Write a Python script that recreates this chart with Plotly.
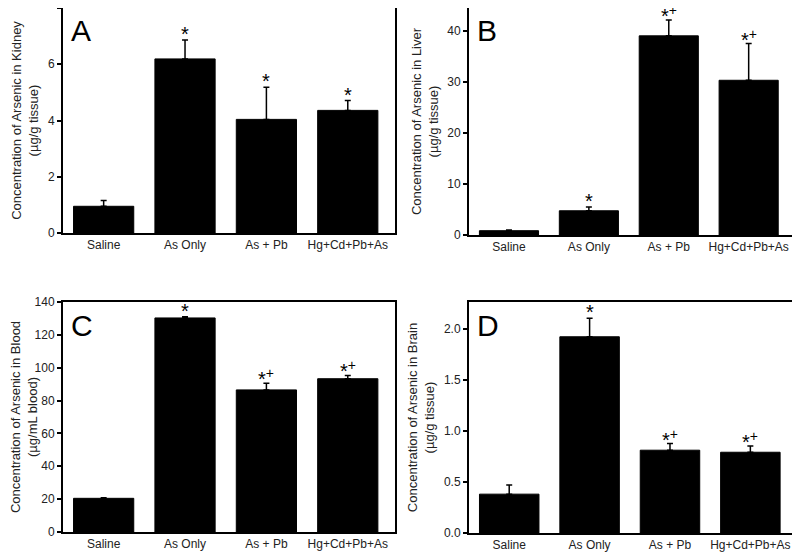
import plotly.graph_objects as go

categories = ["Saline", "As Only", "As + Pb", "Hg+Cd+Pb+As"]

kidney_mean = [0.95, 6.19, 4.04, 4.36]
kidney_err = [0.21, 0.67, 1.14, 0.35]
kidney_sig = ["", "*", "*", "*"]

liver_mean = [0.85, 4.75, 39.0, 30.3]
liver_err = [0.15, 0.75, 3.1, 7.2]
liver_sig = ["", "*", "*+", "*+"]

blood_mean = [20.5, 130.3, 86.5, 93.3]
blood_err = [0.4, 0.8, 4.0, 2.0]
blood_sig = ["", "*", "*+", "*+"]

brain_mean = [0.38, 1.92, 0.81, 0.79]
brain_err = [0.09, 0.18, 0.065, 0.06]
brain_sig = ["", "*", "*+", "*+"]

# The page body has an 8px margin, so the figure is 792x546 and placed at (8, 8).
panels = [
    dict(letter="A", mean=kidney_mean, err=kidney_err, sig=kidney_sig,
         title="Concentration of Arsenic in Kidney<br>(µg/g tissue)",
         yrange=[0, 8], dtick=2, fmt="", xd=[0.0694, 0.4886], yd=[0.5879, 1.0]),
    dict(letter="B", mean=liver_mean, err=liver_err, sig=liver_sig,
         title="Concentration of Arsenic in Liver<br>(µg/g tissue)",
         yrange=[0, 44.45], dtick=10, fmt="", xd=[0.5821, 0.9937], yd=[0.5842, 1.0]),
    dict(letter="C", mean=blood_mean, err=blood_err, sig=blood_sig,
         title="Concentration of Arsenic in Blood<br>(µg/mL blood)",
         yrange=[0, 140], dtick=20, fmt="", xd=[0.0694, 0.4886], yd=[0.0403, 0.4615]),
    dict(letter="D", mean=brain_mean, err=brain_err, sig=brain_sig,
         title="Concentration of Arsenic in Brain<br>(µg/g tissue)",
         yrange=[0, 2.26], dtick=0.5, fmt=".1f", xd=[0.5821, 0.9962], yd=[0.0385, 0.4615]),
]

fig = go.Figure()
annotations = []
font_family = "Liberation Sans, Arial, sans-serif"
for i, p in enumerate(panels, start=1):
    xa = "x" if i == 1 else f"x{i}"
    ya = "y" if i == 1 else f"y{i}"
    fig.add_trace(go.Bar(
        x=categories, y=p["mean"], xaxis=xa, yaxis=ya,
        marker=dict(color="black", line=dict(color="black", width=1)),
        error_y=dict(type="data", array=p["err"], arrayminus=[0]*4, color="black",
                     thickness=1.5, width=3),
        showlegend=False,
    ))
    for c, m, e, s in zip(categories, p["mean"], p["err"], p["sig"]):
        if s:
            txt = "*" if s == "*" else "*<sup>+</sup>"
            annotations.append(dict(x=c, y=m + e, xref=xa, yref=ya, text=txt,
                                    showarrow=False, yanchor="bottom",
                                    yshift=-7 if s == "*" else -9,
                                    font=dict(size=20, color="black", family=font_family)))
    annotations.append(dict(x=0.018, y=0.9, xref=f"{xa} domain", yref=f"{ya} domain",
                            text=p["letter"], showarrow=False, xanchor="left", yanchor="middle",
                            font=dict(size=30, color="black", family=font_family)))
    axsuffix = "" if i == 1 else str(i)
    fig.layout["xaxis" + axsuffix] = dict(
        domain=p["xd"], anchor=ya, showline=True, mirror=True, linecolor="black",
        linewidth=2, ticks="", showgrid=False, tickfont=dict(size=12, color="#222"),
        range=[-0.5, 3.58], automargin=False)
    fig.layout["yaxis" + axsuffix] = dict(
        domain=p["yd"], anchor=xa, range=p["yrange"], dtick=p["dtick"], tickformat=p["fmt"],
        showline=True, mirror=True, linecolor="black", linewidth=2, ticks="outside",
        ticklen=4, tickwidth=1.5, tickcolor="black", showgrid=False, zeroline=False,
        tickfont=dict(size=12, color="#222"), automargin=False,
        title=dict(text=p["title"], font=dict(size=13, color="#222"), standoff=6))

fig.update_layout(
    width=792, height=546, margin=dict(l=0, r=0, t=0, b=0),
    paper_bgcolor="white", plot_bgcolor="white", bargap=0.26,
    font=dict(family=font_family, color="#222"),
    annotations=annotations,
)
fig.write_html("out.html")
